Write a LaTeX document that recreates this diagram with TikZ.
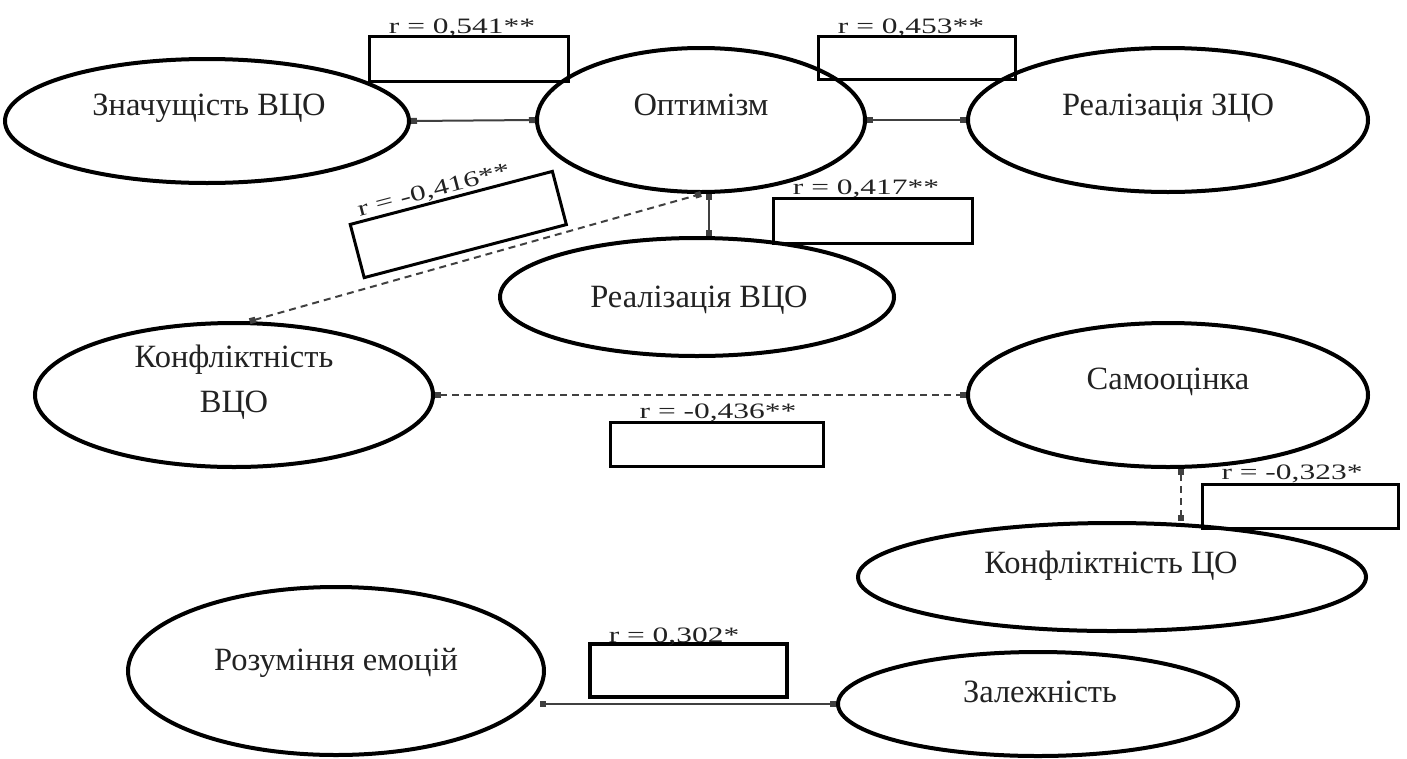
\documentclass[tikz,border=0pt]{standalone}
\usepackage{fontspec}
\setmainfont{Liberation Serif}
\usetikzlibrary{shapes.geometric,arrows.meta,calc}
\definecolor{txtgray}{HTML}{222222}
\definecolor{lngray}{HTML}{404040}
\begin{document}
\begin{tikzpicture}[x=1pt,y=-1pt,
  ell/.style={ellipse,draw=black,line width=4pt,inner sep=0pt},
  etxt/.style={font=\fontsize{32.5}{36}\selectfont,text=txtgray,anchor=base,inner sep=0pt},
  rbox/.style={rectangle,draw=black,line width=3pt,inner sep=0pt},
  rlab/.style={font=\fontsize{22}{24}\selectfont,text=txtgray,anchor=base,inner sep=0pt},
  sqtip/.style={{Square[length=6pt,width=6pt]}-{Square[length=6pt,width=6pt]}},
  conn/.style={draw=lngray,line width=2pt,sqtip},
  dconn/.style={conn,dash pattern=on 7pt off 5pt}]
\useasboundingbox (0,0) rectangle (1407,758);

% ellipses
\node[ell,minimum width=404pt,minimum height=124pt] (zn)   at (207,121) {};
\node[ell,minimum width=328pt,minimum height=144pt] (opt)  at (701,120) {};
\node[ell,minimum width=400pt,minimum height=144pt] (rzco) at (1168,120) {};
\node[ell,minimum width=394pt,minimum height=118pt] (rvco) at (697,297) {};
\node[ell,minimum width=398pt,minimum height=144pt] (kvco) at (234,395) {};
\node[ell,minimum width=400pt,minimum height=144pt] (samo) at (1168,395) {};
\node[ell,minimum width=508pt,minimum height=108pt] (kco)  at (1112,577) {};
\node[ell,minimum width=416pt,minimum height=168pt] (roz)  at (336,671) {};
\node[ell,minimum width=400pt,minimum height=104pt] (zal)  at (1038,704) {};

% ellipse texts
\node[etxt] (tzn)   at (209,115) {Значущість ВЦО};
\node[etxt] (topt)  at (701,115) {Оптимізм};
\node[etxt] (trzco) at (1168,115) {Реалізація ЗЦО};
\node[etxt] (trvco) at (699,307) {Реалізація ВЦО};
\node[etxt] (tkvco1) at (234,367) {Конфліктність};
\node[etxt] (tkvco2) at (234,412) {ВЦО};
\node[etxt] (tsamo) at (1168,389) {Самооцінка};
\node[etxt] (tkco)  at (1111,573) {Конфліктність ЦО};
\node[etxt] (troz)  at (336,670) {Розуміння емоцій};
\node[etxt] (tzal)  at (1040,702) {Залежність};

% coefficient boxes
\node[rbox,minimum width=199pt,minimum height=45pt] (b1) at (468.5,58.5) {};
\node[rbox,minimum width=197pt,minimum height=43pt] (b2) at (916.5,57.5) {};
\node[rbox,minimum width=209pt,minimum height=55pt,rotate=14.7] (b3) at (458.3,224.5) {};
\node[rbox,minimum width=199pt,minimum height=45pt] (b4) at (872.5,220.5) {};
\node[rbox,minimum width=213pt,minimum height=44pt] (b5) at (716.5,444) {};
\node[rbox,minimum width=196pt,minimum height=44pt] (b6) at (1300,506) {};
\node[rbox,minimum width=197pt,minimum height=53pt,line width=3.5pt] (b7) at (688.5,670.5) {};

% coefficient labels
\node[rlab] (l1) at (462,33) {\scalebox{1.43}[1]{r = 0,541**}};
\node[rlab] (l2) at (911,33) {\scalebox{1.43}[1]{r = 0,453**}};
\node[rlab,rotate=14.7] (l3) at (435.3,196.5) {\scalebox{1.43}[1]{r = -0,416**}};
\node[rlab] (l4) at (866,194) {\scalebox{1.43}[1]{r = 0,417**}};
\node[rlab] (l5) at (718,418) {\scalebox{1.43}[1]{r = -0,436**}};
\node[rlab] (l6) at (1292,479) {\scalebox{1.43}[1]{r = -0,323*}};
\node[rlab] (l7) at (674,642) {\scalebox{1.43}[1]{r = 0,302*}};

% connectors
\draw[conn] (zn.east) -- (opt.west);
\draw[conn] (opt.east) -- (rzco.west);
\draw[conn] ([xshift=8pt]opt.south) -- ([xshift=8pt]opt.south |- rvco.north);
\draw[dconn] (kvco.78) -- (opt.south);
\draw[dconn] (kvco.east) -- (samo.west);
\draw[dconn] ([xshift=13pt]samo.south) -- ([xshift=13pt]samo.south |- kco.north);
\draw[conn] ([xshift=-6pt]roz.east |- zal.west) -- (zal.west);
\end{tikzpicture}
\end{document}
